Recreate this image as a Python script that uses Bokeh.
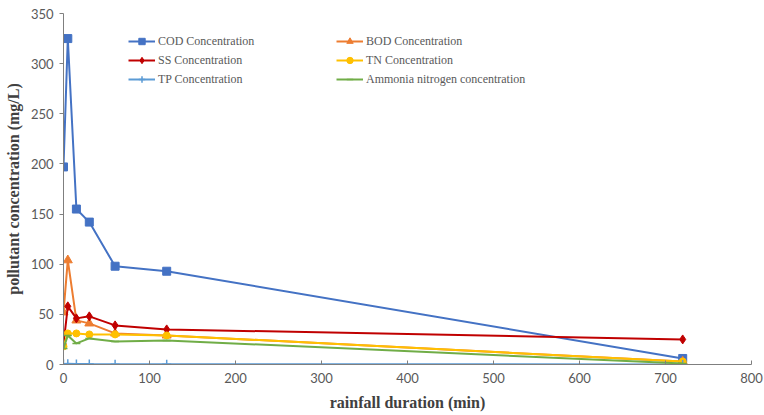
from bokeh.plotting import figure
from bokeh.models import Range1d, FixedTicker, Legend, LegendItem
from bokeh.embed import file_html
from bokeh.resources import INLINE

# Data
duration = [0, 5, 15, 30, 60, 120, 720]
cod = [197, 325, 155, 142, 98, 93, 6]
bod = [52, 104, 44, 41, 31, 29, 3]
ss = [20, 58, 46, 48, 39, 35, 25]
tn = [18, 31, 31, 30, 30, 29, 3]
tp = [0.6, 0.8, 0.5, 0.4, 0.3, 0.3, 0.1]
nh3 = [16, 29, 21, 26, 23, 24, 1]

x_ticks = [0, 100, 200, 300, 400, 500, 600, 700, 800]
y_ticks = [0, 50, 100, 150, 200, 250, 300, 350]

p = figure(width=764, height=415, output_backend="svg", toolbar_location=None,
           x_range=Range1d(0, 800), y_range=Range1d(0, 350),
           min_border_left=63, min_border_right=13, min_border_top=13, min_border_bottom=51)
p.outline_line_color = None
p.xgrid.visible = False
p.ygrid.visible = False
p.background_fill_color = "white"

tick_font = "Lato"
for ax in (p.xaxis[0], p.yaxis[0]):
    ax.axis_line_color = "#7f7f7f"
    ax.major_tick_line_color = "#7f7f7f"
    ax.minor_tick_line_color = None
    ax.major_label_text_font = tick_font
    ax.major_label_text_font_size = "13px"
    ax.major_label_text_color = "#595959"
    ax.axis_label_text_font = "Liberation Serif"
    ax.axis_label_text_font_size = "16px"
    ax.axis_label_text_font_style = "bold"
    ax.axis_label_text_color = "#404040"

p.xaxis.ticker = FixedTicker(ticks=x_ticks)
p.yaxis.ticker = FixedTicker(ticks=y_ticks)
p.xaxis.major_tick_in = 4
p.xaxis.major_tick_out = 0
p.yaxis.major_tick_in = 0
p.yaxis.major_tick_out = 4
p.xaxis.major_label_standoff = 8
p.yaxis.major_label_standoff = 6
p.xaxis.axis_label = "rainfall duration (min)"
p.yaxis.axis_label = "pollutant concentration (mg/L)"
p.xaxis.axis_label_standoff = 8
p.yaxis.axis_label_standoff = 6

lw = 2
series = [
    ("COD Concentration", cod, "#4472C4", "square", 8),
    ("BOD Concentration", bod, "#ED7D31", "triangle", 9),
    ("SS Concentration", ss, "#C00000", "diamond", 9),
    ("TN Concentration", tn, "#FFC000", "circle", 7),
    ("TP Concentration", tp, "#5B9BD5", "cross", 9),
    ("Ammonia nitrogen concentration", nh3, "#70AD47", "dash", 8),
]

items = {}
for name, ys, color, marker, size in series:
    r1 = p.line(duration, ys, line_color=color, line_width=lw)
    r2 = p.scatter(duration, ys, marker=marker, size=size, fill_color=color,
                   line_color=color, line_width=1.5 if marker in ("cross", "dash") else 1)
    items[name] = LegendItem(label=name, renderers=[r1, r2])

def make_legend(names, loc):
    lg = Legend(items=[items[n] for n in names], location=loc, orientation="vertical",
                label_text_font="Liberation Serif", label_text_font_size="12px",
                label_text_color="#595959", glyph_width=27, glyph_height=16,
                label_height=16, spacing=3, label_standoff=3, padding=0, margin=0,
                border_line_color=None, background_fill_alpha=0)
    p.add_layout(lg, "center")

make_legend(["COD Concentration", "SS Concentration", "TP Concentration"], (65, 277))
make_legend(["BOD Concentration", "TN Concentration", "Ammonia nitrogen concentration"], (273, 277))

open("out.html", "w").write(file_html(p, INLINE))
